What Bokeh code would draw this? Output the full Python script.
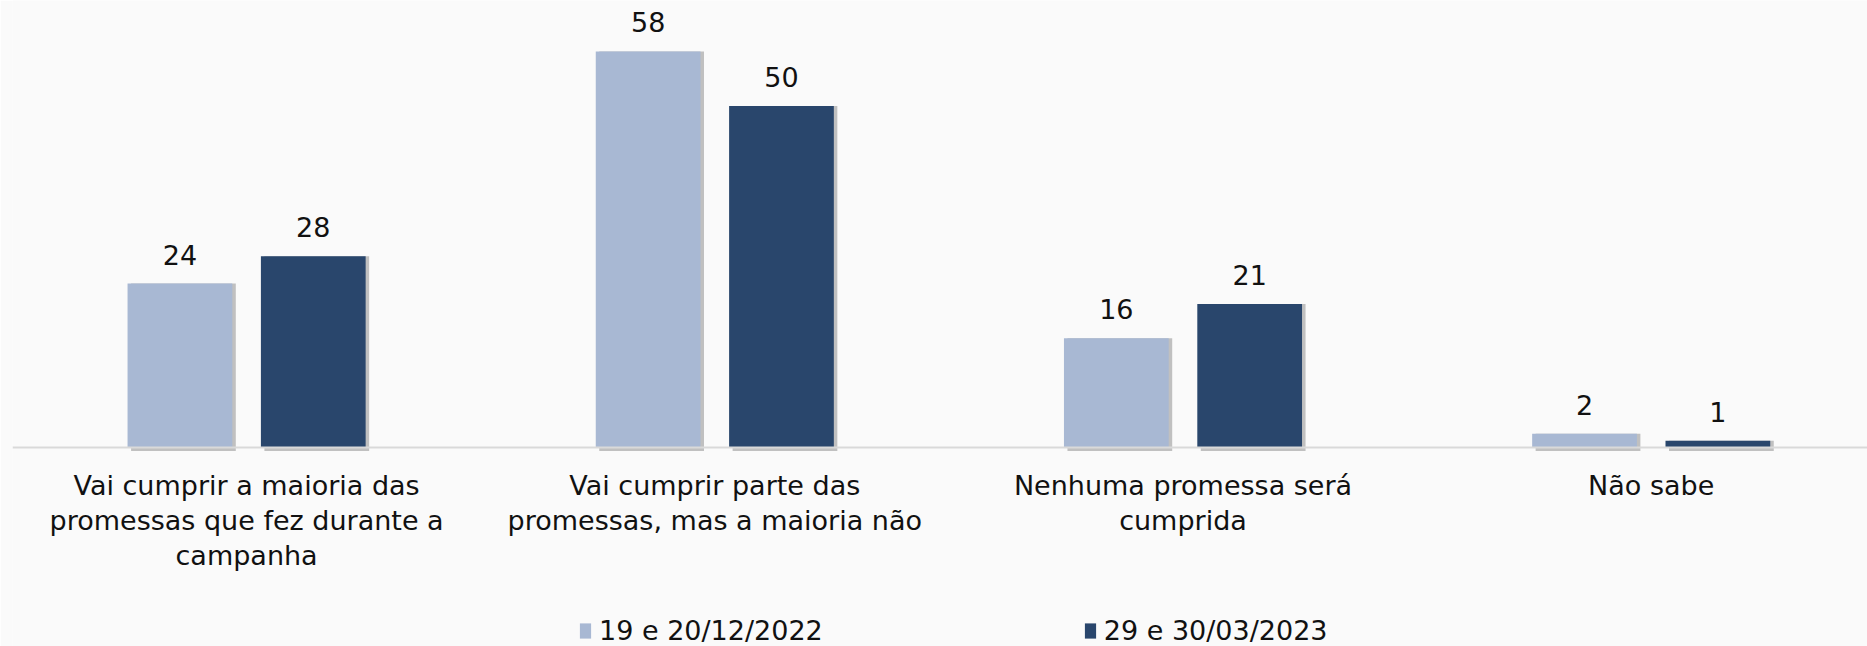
from bokeh.plotting import figure
from bokeh.models import ColumnDataSource, Range1d, Span, Legend, LegendItem
from bokeh.transform import dodge
from bokeh.core.properties import value
from bokeh.embed import file_html
from bokeh.resources import INLINE

categories = [
    "Vai cumprir a maioria das\npromessas que fez durante a\ncampanha",
    "Vai cumprir parte das\npromessas, mas a maioria não",
    "Nenhuma promessa será\ncumprida",
    "Não sabe",
]
series_names = ["19 e 20/12/2022", "29 e 30/03/2023"]
values_2022 = [24, 58, 16, 2]
values_2023 = [28, 50, 21, 1]
colors = ["#A8B8D3", "#29466C"]

FONT = "DejaVu Sans"
FS = "27px"
TXT = "#111111"
xpos = [i + 0.5 for i in range(len(categories))]

src = ColumnDataSource(dict(
    x=xpos,
    zero=[0] * len(xpos),
    cat=categories,
    v1=values_2022,
    v2=values_2023,
    t1=[str(v) for v in values_2022],
    t2=[str(v) for v in values_2023],
))

W, H = 1867, 646
p = figure(width=W, height=H, output_backend="svg", toolbar_location=None,
           x_range=Range1d(0, 3.962), y_range=Range1d(-29.14, 65.45),
           min_border_left=12, min_border_right=0, min_border_top=0, min_border_bottom=0,
           background_fill_color="#FAFAFA", border_fill_color="#FAFAFA")
p.outline_line_color = None
p.grid.visible = False
p.axis.visible = False

off = 0.1424
bw = 0.2237
sh = 0.0075

# soft shadows behind bars
for k, col in (("v1", -off), ("v2", off)):
    p.vbar(x=dodge("x", col + sh, range=p.x_range), top=k, bottom=-0.5, width=bw,
           source=src, fill_color="#7A7A7A", fill_alpha=0.45, line_color=None)

p.add_layout(Span(location=0, dimension="width", line_color="#D9D9D9", line_width=2))

r1 = p.vbar(x=dodge("x", -off, range=p.x_range), top="v1", bottom=0, width=bw, source=src,
            fill_color=colors[0], line_color=None)
r2 = p.vbar(x=dodge("x", off, range=p.x_range), top="v2", bottom=0, width=bw, source=src,
            fill_color=colors[1], line_color=None)

for k, t, col in (("v1", "t1", -off), ("v2", "t2", off)):
    p.text(x=dodge("x", col, range=p.x_range), y=k, text=t, source=src,
           text_font=value(FONT), text_font_size=FS, text_color=TXT,
           text_align="center", text_baseline="alphabetic", y_offset=-29)

# category labels under the baseline
p.text(x="x", y="zero", text="cat", source=src,
       text_font=value(FONT), text_font_size=FS, text_color=TXT,
       text_align="center", text_baseline="top", text_line_height=1.12, y_offset=23)

legend = Legend(items=[LegendItem(label=series_names[0], renderers=[r1]),
                       LegendItem(label=series_names[1], renderers=[r2])],
                orientation="horizontal", location=(566, 0),
                glyph_width=14, glyph_height=19, label_standoff=7, spacing=260,
                label_text_font=FONT, label_text_font_size=FS, label_text_color=TXT,
                background_fill_alpha=0, border_line_color=None, padding=0, margin=0)
p.add_layout(legend)

open("out.html", "w").write(file_html(p, INLINE))
